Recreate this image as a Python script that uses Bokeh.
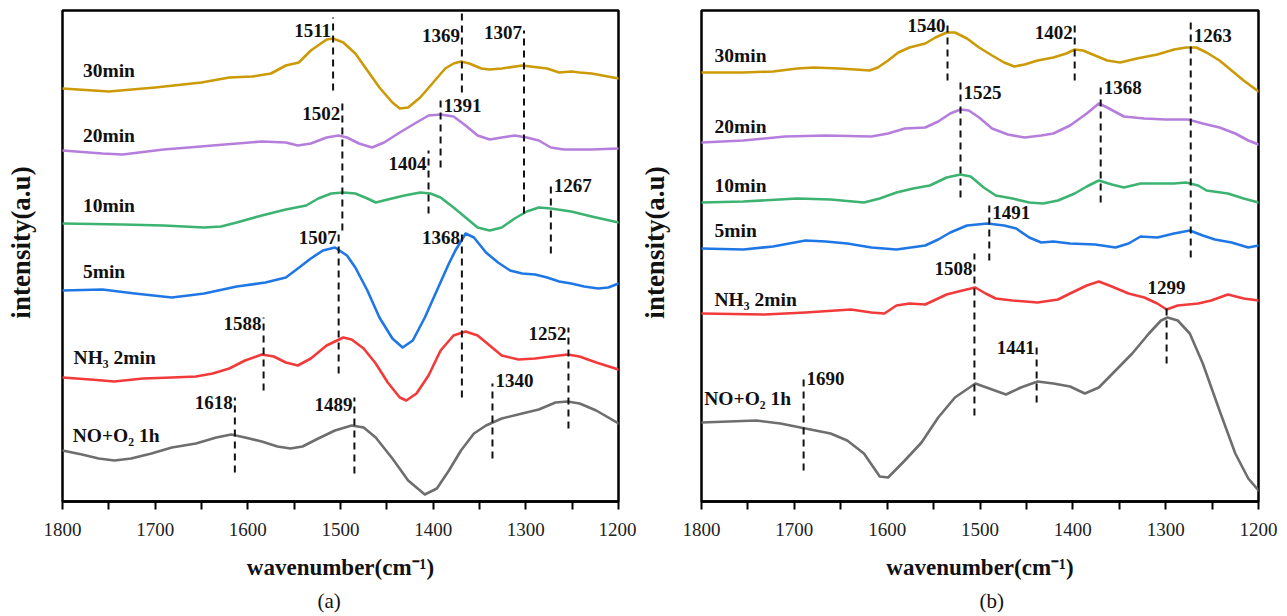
from bokeh.plotting import figure
from bokeh.layouts import row
from bokeh.models import Range1d, FixedTicker, ColumnDataSource, Title
from bokeh.core.properties import value
from bokeh.embed import file_html
from bokeh.resources import INLINE

FONT = "Liberation Serif"

series_names = ["30min", "20min", "10min", "5min", "NH\u2083 2min", "NO+O\u2082 1h"]
series_colors = ["#CC9A06", "#B57EDC", "#3CB371", "#1F77E6", "#F23A3A", "#6E6E6E"]
tick_values = [1800, 1700, 1600, 1500, 1400, 1300, 1200]
minor_tick_values = [1750, 1650, 1550, 1450, 1350, 1250]

# ---------------- panel (a) ----------------
a_wn_30 = [1800, 1750, 1700, 1650, 1620, 1595, 1575, 1559, 1545, 1532, 1515, 1508, 1497, 1484, 1471, 1458, 1444, 1436, 1427, 1414, 1400, 1387, 1378, 1370, 1361, 1348, 1339, 1326, 1304, 1295, 1277, 1264, 1251, 1242, 1229, 1200]
a_in_30 = [413, 410, 414, 419, 424, 425, 428, 436, 439, 451, 462, 463, 459, 448, 431, 414, 399, 393, 394, 404, 419, 433, 438, 440, 438, 433, 432, 433, 436, 435, 433, 429, 430, 429, 428, 423]
a_wn_20 = [1800, 1757, 1735, 1691, 1664, 1625, 1585, 1559, 1546, 1532, 1515, 1502, 1493, 1480, 1466, 1453, 1436, 1418, 1405, 1392, 1378, 1365, 1352, 1339, 1326, 1312, 1299, 1286, 1273, 1259, 1229, 1200]
a_in_20 = [351, 348, 347, 352, 354, 357, 360, 359, 356, 358, 364, 366, 364, 358, 354, 359, 369, 379, 386, 387, 385, 376, 366, 362, 364, 366, 364, 361, 354, 352, 352, 353]
a_wn_10 = [1800, 1735, 1691, 1647, 1629, 1612, 1585, 1559, 1537, 1524, 1510, 1497, 1484, 1471, 1462, 1449, 1431, 1414, 1403, 1392, 1378, 1365, 1352, 1339, 1326, 1312, 1299, 1286, 1273, 1251, 1229, 1200]
a_in_10 = [278, 277, 276, 274, 275, 279, 286, 292, 296, 303, 308, 309, 308, 303, 299, 302, 306, 309, 308, 304, 294, 284, 274, 271, 274, 283, 290, 294, 293, 290, 285, 279]
a_wn_5 = [1800, 1757, 1722, 1682, 1647, 1612, 1581, 1559, 1546, 1532, 1519, 1506, 1493, 1484, 1471, 1458, 1444, 1433, 1422, 1409, 1396, 1383, 1376, 1365, 1356, 1343, 1330, 1317, 1304, 1290, 1277, 1264, 1251, 1237, 1222, 1211, 1200]
a_in_5 = [211, 212, 208, 204, 208, 215, 219, 224, 233, 243, 251, 254, 246, 234, 211, 184, 163, 154, 161, 184, 211, 238, 251, 268, 264, 249, 239, 231, 228, 227, 224, 220, 218, 215, 213, 214, 218]
a_wn_nh3 = [1800, 1770, 1744, 1713, 1682, 1656, 1638, 1620, 1603, 1585, 1572, 1559, 1546, 1532, 1515, 1497, 1488, 1475, 1462, 1449, 1436, 1429, 1418, 1405, 1392, 1378, 1365, 1352, 1339, 1326, 1308, 1290, 1273, 1255, 1242, 1224, 1200]
a_in_nh3 = [124, 122, 120, 123, 124, 125, 128, 133, 141, 147, 145, 139, 136, 143, 156, 164, 162, 153, 138, 119, 104, 101, 108, 126, 151, 166, 170, 166, 156, 146, 142, 143, 145, 147, 145, 139, 132]
a_wn_no = [1800, 1779, 1761, 1744, 1726, 1704, 1682, 1656, 1634, 1618, 1603, 1585, 1568, 1554, 1541, 1524, 1506, 1488, 1475, 1462, 1444, 1427, 1409, 1396, 1383, 1370, 1356, 1343, 1326, 1304, 1286, 1268, 1255, 1242, 1224, 1200]
a_in_no = [51, 47, 43, 41, 43, 48, 54, 58, 64, 67, 64, 60, 55, 53, 55, 63, 71, 76, 74, 64, 43, 21, 7, 13, 31, 51, 68, 76, 83, 88, 92, 99, 100, 98, 91, 78]

a_peak_label = ["1511", "1369", "1307", "1502", "1391", "1404", "1267", "1507", "1368", "1588", "1252", "1340", "1618", "1489"]
a_peak_wn = [1508, 1369, 1302, 1498, 1392, 1405, 1273, 1502, 1369, 1583, 1254, 1336, 1614, 1485]
a_peak_top = [484, 488, 471, 401, 406, 351, 319, 268, 271, 184, 174, 118, 104, 104]
a_peak_bottom = [411, 409, 288, 271, 334, 288, 248, 128, 104, 111, 73, 43, 29, 28]
a_peak_text_y = [471, 466, 469, 388, 396, 338, 316, 264, 264, 178, 168, 121, 99, 97]
a_peak_side = ["left", "left", "left", "left", "right", "left", "right", "left", "left", "left", "left", "right", "left", "left"]

a_name_wn = [1778, 1778, 1778, 1778, 1788, 1789]
a_name_y = [431, 366, 296, 230, 144, 66]

# ---------------- panel (b) ----------------
b_wn_30 = [1800, 1755, 1723, 1697, 1679, 1652, 1634, 1619, 1610, 1599, 1588, 1576, 1559, 1548, 1536, 1527, 1514, 1501, 1487, 1474, 1463, 1452, 1438, 1421, 1407, 1398, 1389, 1376, 1363, 1349, 1331, 1309, 1291, 1278, 1267, 1256, 1242, 1229, 1216, 1200]
b_in_30 = [429, 429, 430, 433, 434, 433, 432, 431, 434, 441, 449, 454, 458, 464, 469, 469, 463, 454, 446, 439, 435, 437, 441, 444, 448, 452, 451, 446, 441, 439, 443, 447, 452, 454, 454, 449, 441, 431, 421, 410]
b_wn_20 = [1800, 1755, 1710, 1666, 1617, 1599, 1581, 1559, 1545, 1532, 1521, 1512, 1501, 1487, 1470, 1452, 1434, 1421, 1403, 1385, 1372, 1363, 1345, 1323, 1300, 1276, 1260, 1242, 1225, 1211, 1200]
b_in_20 = [359, 361, 365, 366, 365, 368, 373, 374, 380, 388, 392, 391, 384, 373, 367, 364, 366, 368, 376, 388, 398, 394, 385, 383, 382, 382, 378, 374, 368, 361, 357]
b_wn_10 = [1800, 1755, 1697, 1661, 1625, 1608, 1590, 1572, 1554, 1536, 1521, 1510, 1496, 1483, 1465, 1447, 1432, 1416, 1398, 1385, 1372, 1358, 1345, 1327, 1309, 1291, 1278, 1265, 1256, 1233, 1216, 1200]
b_in_10 = [299, 300, 303, 302, 299, 303, 309, 313, 316, 324, 327, 325, 314, 306, 303, 299, 298, 301, 308, 315, 321, 317, 314, 318, 318, 318, 319, 316, 311, 308, 303, 299]
b_wn_5 = [1800, 1755, 1723, 1688, 1666, 1643, 1617, 1590, 1559, 1545, 1532, 1514, 1492, 1474, 1461, 1447, 1434, 1421, 1403, 1376, 1354, 1340, 1327, 1309, 1291, 1274, 1260, 1247, 1229, 1211, 1200]
b_in_5 = [253, 252, 255, 261, 260, 258, 254, 252, 256, 262, 269, 276, 278, 276, 273, 264, 259, 260, 258, 257, 254, 258, 265, 264, 268, 271, 266, 262, 259, 254, 256]
b_wn_nh3 = [1800, 1732, 1688, 1639, 1617, 1603, 1590, 1576, 1559, 1536, 1519, 1505, 1494, 1483, 1465, 1438, 1416, 1403, 1385, 1372, 1358, 1340, 1323, 1309, 1299, 1287, 1265, 1251, 1233, 1216, 1200]
b_in_nh3 = [188, 187, 189, 192, 189, 188, 196, 198, 197, 207, 211, 214, 208, 203, 201, 199, 202, 208, 216, 220, 215, 208, 204, 198, 192, 196, 198, 201, 207, 203, 201]
b_wn_no = [1800, 1741, 1715, 1688, 1661, 1643, 1625, 1608, 1599, 1581, 1563, 1545, 1527, 1505, 1487, 1472, 1456, 1438, 1421, 1403, 1387, 1372, 1354, 1336, 1318, 1305, 1298, 1287, 1274, 1260, 1242, 1225, 1211, 1200]
b_in_no = [79, 81, 78, 73, 68, 61, 48, 25, 24, 41, 59, 84, 104, 118, 112, 107, 114, 120, 118, 115, 108, 114, 131, 148, 168, 181, 184, 181, 168, 138, 91, 48, 23, 11]

b_peak_label = ["1540", "1402", "1263", "1525", "1368", "1491", "1508", "1441", "1299", "1690"]
b_peak_wn = [1535, 1398, 1273, 1521, 1370, 1490, 1506, 1439, 1299, 1690]
b_peak_top = [481, 478, 481, 423, 418, 296, 248, 158, 198, 126]
b_peak_bottom = [421, 421, 244, 304, 299, 241, 86, 99, 138, 31]
b_peak_text_y = [476, 469, 466, 409, 414, 289, 233, 154, 214, 123]
b_peak_side = ["left", "left", "right", "right", "right", "right", "left", "left", "center", "right"]

b_name_wn = [1786, 1786, 1786, 1786, 1786, 1797]
b_name_y = [446, 375, 316, 271, 202, 103]


def make_panel(curves, peaks, names, tag, tag_offset, width, border_left, border_right, ylabel_standoff):
    p = figure(width=width, height=616, output_backend="svg", toolbar_location=None,
               x_range=Range1d(1800, 1200), y_range=Range1d(0, 491),
               min_border_left=border_left, min_border_right=border_right,
               min_border_top=10, min_border_bottom=115)
    p.grid.visible = False
    p.outline_line_color = "black"
    p.outline_line_width = 2.5
    p.outline_line_alpha = 1
    p.background_fill_color = "white"
    p.border_fill_color = "white"

    ax = p.xaxis[0]
    ax.ticker = FixedTicker(ticks=tick_values, minor_ticks=minor_tick_values)
    ax.axis_line_width = 2.5
    ax.axis_line_color = "black"
    ax.major_tick_out = 8
    ax.major_tick_in = 0
    ax.minor_tick_out = 8
    ax.minor_tick_in = 0
    ax.major_tick_line_width = 2
    ax.minor_tick_line_width = 2
    ax.major_label_text_font = FONT
    ax.major_label_text_font_size = "19px"
    ax.major_label_text_color = "#222222"
    ax.major_label_standoff = 13
    ax.axis_label = "wavenumber(cm\u207b\u00b9)"
    ax.axis_label_text_font = FONT
    ax.axis_label_text_font_style = "bold"
    ax.axis_label_text_font_size = "23px"
    ax.axis_label_text_color = "#111111"
    ax.axis_label_standoff = 16

    ay = p.yaxis[0]
    ay.ticker = FixedTicker(ticks=[])
    ay.major_label_text_font_size = "0px"
    ay.major_tick_out = 0
    ay.minor_tick_out = 0
    ay.axis_line_color = None
    # leading no-break spaces move the centred label a little upwards, as in the original
    ay.axis_label = "\u00a0\u00a0\u00a0\u00a0intensity(a.u)"
    ay.axis_label_text_font = FONT
    ay.axis_label_text_font_style = "bold"
    ay.axis_label_text_font_size = "27px"
    ay.axis_label_text_color = "#111111"
    ay.axis_label_standoff = ylabel_standoff

    p.add_layout(Title(text=tag, align="left", offset=tag_offset, text_font=FONT,
                       text_font_style="normal", text_font_size="21px",
                       text_color="#111111", standoff=8), "below")

    for (wn, inten), col in zip(curves, series_colors):
        p.line(wn, inten, line_color=col, line_width=2.6, line_join="round", line_cap="round")

    pk_wn, pk_lab, pk_top, pk_bot, pk_ty, pk_side = peaks
    p.segment(x0=pk_wn, y0=pk_bot, x1=pk_wn, y1=pk_top, line_color="#111111",
              line_width=2, line_dash="7 5")
    for side, align, off in (("left", "right", -2), ("right", "left", 3), ("center", "center", 0)):
        idx = [i for i, s in enumerate(pk_side) if s == side]
        if not idx:
            continue
        src = ColumnDataSource(dict(x=[pk_wn[i] for i in idx], y=[pk_ty[i] for i in idx],
                                    t=[pk_lab[i] for i in idx]))
        p.text(x="x", y="y", text="t", source=src, x_offset=off, text_align=align,
               text_baseline="middle", text_font=value(FONT), text_font_style="bold",
               text_font_size="19px", text_color="#111111")

    nm_wn, nm_y = names
    p.text(x=nm_wn, y=nm_y, text=series_names, text_align="left", text_baseline="middle",
           text_font=value(FONT), text_font_style="bold", text_font_size="19.5px",
           text_color="#111111")
    return p


pa = make_panel(
    [(a_wn_30, a_in_30), (a_wn_20, a_in_20), (a_wn_10, a_in_10), (a_wn_5, a_in_5),
     (a_wn_nh3, a_in_nh3), (a_wn_no, a_in_no)],
    (a_peak_wn, a_peak_label, a_peak_top, a_peak_bottom, a_peak_text_y, a_peak_side),
    (a_name_wn, a_name_y), "(a)", 255, 636, 62, 18, 27)
pb = make_panel(
    [(b_wn_30, b_in_30), (b_wn_20, b_in_20), (b_wn_10, b_in_10), (b_wn_5, b_in_5),
     (b_wn_nh3, b_in_nh3), (b_wn_no, b_in_no)],
    (b_peak_wn, b_peak_label, b_peak_top, b_peak_bottom, b_peak_text_y, b_peak_side),
    (b_name_wn, b_name_y), "(b)", 278, 651, 65, 29, 32)

layout = row(pa, pb)
open("out.html", "w").write(file_html(layout, INLINE))
